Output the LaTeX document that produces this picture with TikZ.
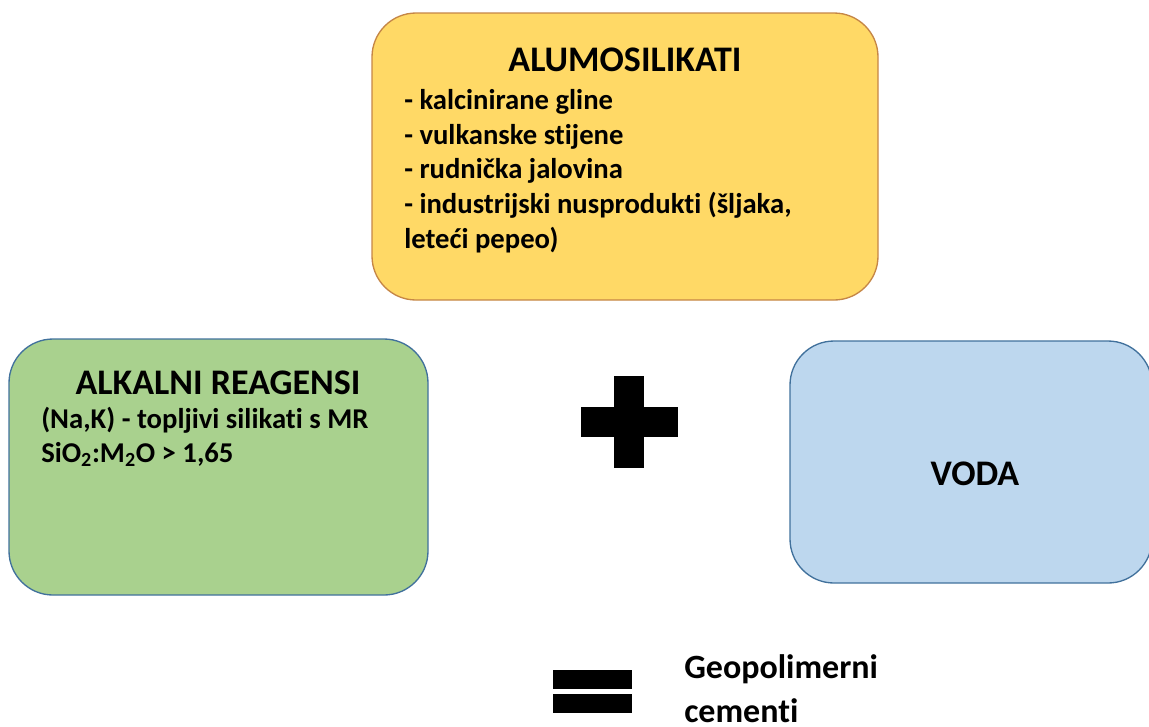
\documentclass[tikz,border=0pt]{standalone}
\usepackage{fontspec}
\setmainfont[Ligatures=NoCommon]{Carlito}
\usetikzlibrary{positioning}
\definecolor{zuta}{RGB}{255,217,102}
\definecolor{zutarub}{RGB}{197,134,70}
\definecolor{zelena}{RGB}{169,209,142}
\definecolor{plava}{RGB}{189,215,238}
\definecolor{plavarub}{RGB}{65,113,156}

\begin{document}
\begin{tikzpicture}[x=0.75pt,y=-0.75pt,
  kutija/.style={draw, rounded corners=33pt, line width=1pt, inner sep=0pt},
  naslov/.style={font=\bfseries\fontsize{27}{32}\selectfont, inner sep=0pt, anchor=base},
  tekst/.style={font=\bfseries\fontsize{21.5}{26}\selectfont, inner sep=0pt, anchor=base west, align=left}]

    \useasboundingbox (0,0) rectangle (1149,726);

    %Alumosilikati
    \node[kutija, fill=zuta, draw=zutarub, minimum width=506*0.75pt, minimum height=287*0.75pt] (alumo) at (625,156.5) {};
    \node[naslov] (alumo_naslov) at (625,71) {ALUMOSILIKATI};
    \node[tekst] (alumo_tekst) at (404,248) {- kalcinirane gline\\- vulkanske stijene\\- rudnička jalovina\\- industrijski nusprodukti (šljaka,\\leteći pepeo)};

    %Alkalni reagensi
    \node[kutija, fill=zelena, draw=plavarub, minimum width=419*0.75pt, minimum height=256*0.75pt] (alkalni) at (218.5,467) {};
    \node[naslov] (alkalni_naslov) at (218,394) {ALKALNI REAGENSI};
    \node[tekst, font=\bfseries\fontsize{21.5}{25.5}\selectfont] (alkalni_tekst) at (41,462) {(Na,K) - topljivi silikati s MR\\SiO\textsubscript{2}:M\textsubscript{2}O > 1,65};

    %Voda
    \node[kutija, fill=plava, draw=plavarub, minimum width=362*0.75pt, minimum height=242*0.75pt] (voda) at (971,462) {};
    \node[naslov] (voda_naslov) at (975,485) {VODA};

    %Plus i jednako
    \fill (614,376) rectangle (644,468);
    \fill (581,407) rectangle (678,437);
    \fill (553,670) rectangle (632,689);
    \fill (553,694) rectangle (632,713);

    %Rezultat
    \node[tekst, font=\bfseries\fontsize{25.5}{33}\selectfont] (rezultat) at (684,722) {Geopolimerni\\cementi};

\end{tikzpicture}
\end{document}
